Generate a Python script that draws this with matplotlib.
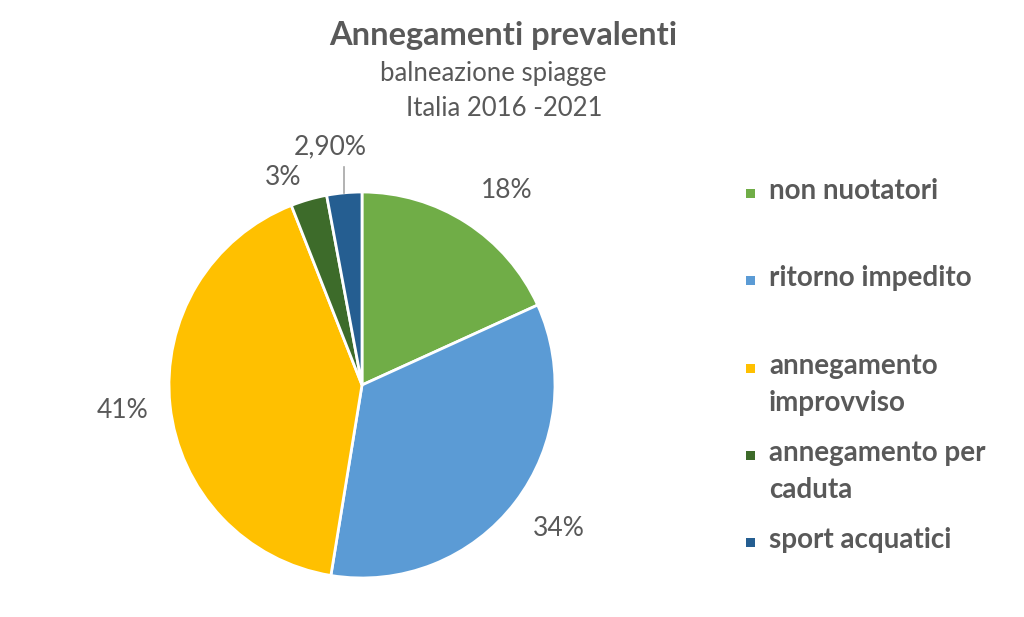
import matplotlib
matplotlib.use("Agg")
import numpy as np
from matplotlib import pyplot as plt
from matplotlib.patches import Rectangle

TEXT_COLOR = "#595959"
FONT = "Lato"

categories = ["non nuotatori", "ritorno impedito", "annegamento\nimprovviso",
              "annegamento per\ncaduta", "sport acquatici"]
values = [18, 34, 41, 3, 2.9]
value_labels = ["18%", "34%", "41%", "3%", "2,90%"]
colors = ["#70AD47", "#5B9BD5", "#FFC000", "#3D6B2A", "#255E91"]

# label placement: (distance in radii, x shift, y shift) in radii
LABEL_POS = [(1.2, 0.10, 0.0), (1.22, 0.05, 0.0), (1.25, 0.0, 0.0),
             (1.12, -0.10, 0.0), (1.24, -0.05, 0.0)]

plt.rcParams["font.family"] = [FONT, "DejaVu Sans"]

fig = plt.figure(figsize=(10.24, 6.17), dpi=100)
fig.patch.set_facecolor("white")

W, H = 1024, 617
cx, cy, r = 362, 385, 193
ax = fig.add_axes([(cx - r) / W, (H - cy - r) / H, 2 * r / W, 2 * r / H])

wedges, _ = ax.pie(values, colors=colors, startangle=90, counterclock=False,
                   radius=1, wedgeprops={"edgecolor": "white", "linewidth": 2.0})
ax.set_xlim(-1, 1)
ax.set_ylim(-1, 1)
ax.set_aspect("equal")
ax.axis("off")
for w in wedges:
    w.set_clip_on(False)

for w, lab, (dist, sx, sy) in zip(wedges, value_labels, LABEL_POS):
    mid = np.deg2rad((w.theta1 + w.theta2) / 2)
    x = dist * np.cos(mid) + sx
    y = dist * np.sin(mid) + sy
    ax.text(x, y, lab, ha="center", va="center", fontsize=19,
            color=TEXT_COLOR, clip_on=False)

# leader line for the smallest slice
w = wedges[-1]
mid = np.deg2rad((w.theta1 + w.theta2) / 2)
x0 = np.cos(mid)
ax.plot([x0, x0], [np.sin(mid), 1.13], color="#A6A6A6", lw=1.2, clip_on=False)

fig.text(503 / W, 1 - 35 / H, "Annegamenti prevalenti", ha="center", va="center",
         fontsize=23.5, fontweight="bold", color=TEXT_COLOR)
fig.text(493 / W, 1 - 73 / H, "balneazione spiagge", ha="center", va="center",
         fontsize=18.5, color=TEXT_COLOR)
fig.text(504 / W, 1 - 108 / H, "Italia 2016 -2021", ha="center", va="center",
         fontsize=18.5, color=TEXT_COLOR)

# legend, entries evenly spaced by their first line
leg_top = 194
leg_step = 87.3
for i, (cat, col) in enumerate(zip(categories, colors)):
    yc = 1 - (leg_top + i * leg_step) / H
    fig.patches.append(Rectangle((746 / W, yc - 4 / H), 9 / W, 9 / H,
                                 transform=fig.transFigure, facecolor=col,
                                 edgecolor="none"))
    fig.text(769 / W, yc + 16 / H, cat, ha="left", va="top", fontsize=20,
             fontweight="bold", color=TEXT_COLOR, linespacing=1.55)

fig.savefig("out.png", dpi=100)
